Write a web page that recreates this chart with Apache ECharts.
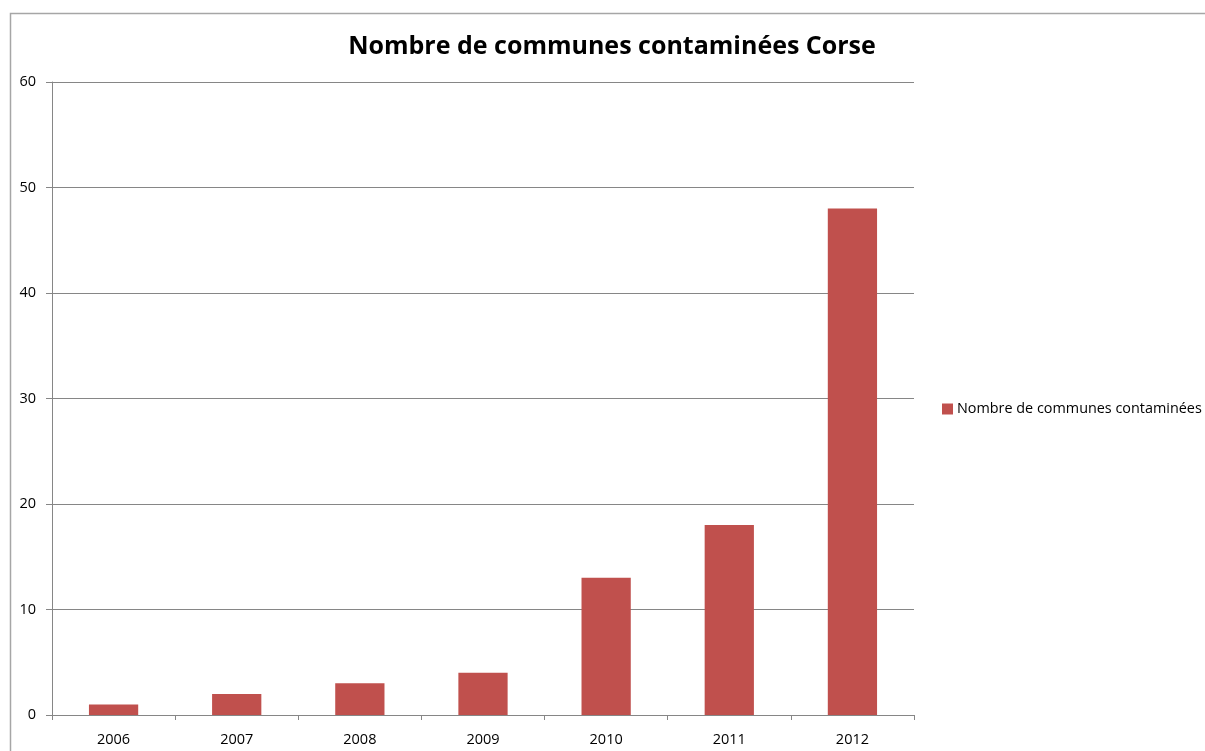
<!DOCTYPE html>
<html>
<head>
<meta charset="utf-8">
<script src="https://cdn.jsdelivr.net/npm/echarts@6/dist/echarts.min.js"></script>
<style>
  html, body { margin: 0; padding: 0; background: #fff; }
  #chart { width: 1205px; height: 751px; }
</style>
</head>
<body>
<div id="chart"></div>
<script>
// Années et nombre de communes contaminées en Corse
const years = ['2006', '2007', '2008', '2009', '2010', '2011', '2012'];
const communes = [1, 2, 3, 4, 13, 18, 48];
const seriesName = 'Nombre de communes contaminées';
const titleText = 'Nombre de communes contaminées Corse';

const chart = echarts.init(document.getElementById('chart'), null, { renderer: 'canvas' });
const font = '"Open Sans", "Liberation Sans", sans-serif';

chart.setOption({
  animation: false,
  backgroundColor: '#ffffff',
  title: {
    text: titleText,
    left: 612,
    textAlign: 'center',
    top: 34,
    padding: 0,
    textStyle: { fontFamily: font, fontWeight: 'bold', fontSize: 25, color: '#000' }
  },
  graphic: [{
    type: 'rect',
    shape: { x: 10.5, y: 13.5, width: 1300, height: 800 },
    style: { fill: 'none', stroke: '#a6a6a6', lineWidth: 1.5 },
    silent: true
  }],
  legend: {
    data: [seriesName],
    left: 942,
    top: 402,
    padding: 0,
    orient: 'vertical',
    itemWidth: 11,
    itemHeight: 11,
    itemGap: 4,
    icon: 'rect',
    textStyle: { fontFamily: font, fontSize: 14.4, color: '#000', padding: [0, 0, 0, -1] }
  },
  grid: { left: 52, right: 291, top: 82, bottom: 36, containLabel: false },
  xAxis: {
    type: 'category',
    data: years,
    axisLine: { lineStyle: { color: '#868686', width: 1 } },
    axisTick: { show: true, alignWithLabel: false, length: 5, lineStyle: { color: '#868686' } },
    axisLabel: { fontFamily: font, fontSize: 14.5, color: '#000', margin: 17 }
  },
  yAxis: {
    type: 'value',
    min: 0,
    max: 60,
    interval: 10,
    axisLine: { show: true, lineStyle: { color: '#868686', width: 1 } },
    axisTick: { show: true, length: 6, lineStyle: { color: '#868686' } },
    axisLabel: { fontFamily: font, fontSize: 14.5, color: '#000', margin: 16 },
    splitLine: { lineStyle: { color: '#868686', width: 1 } }
  },
  series: [{
    name: seriesName,
    type: 'bar',
    data: communes,
    barWidth: '40%',
    itemStyle: { color: '#C0504D' }
  }]
});
</script>
</body>
</html>
